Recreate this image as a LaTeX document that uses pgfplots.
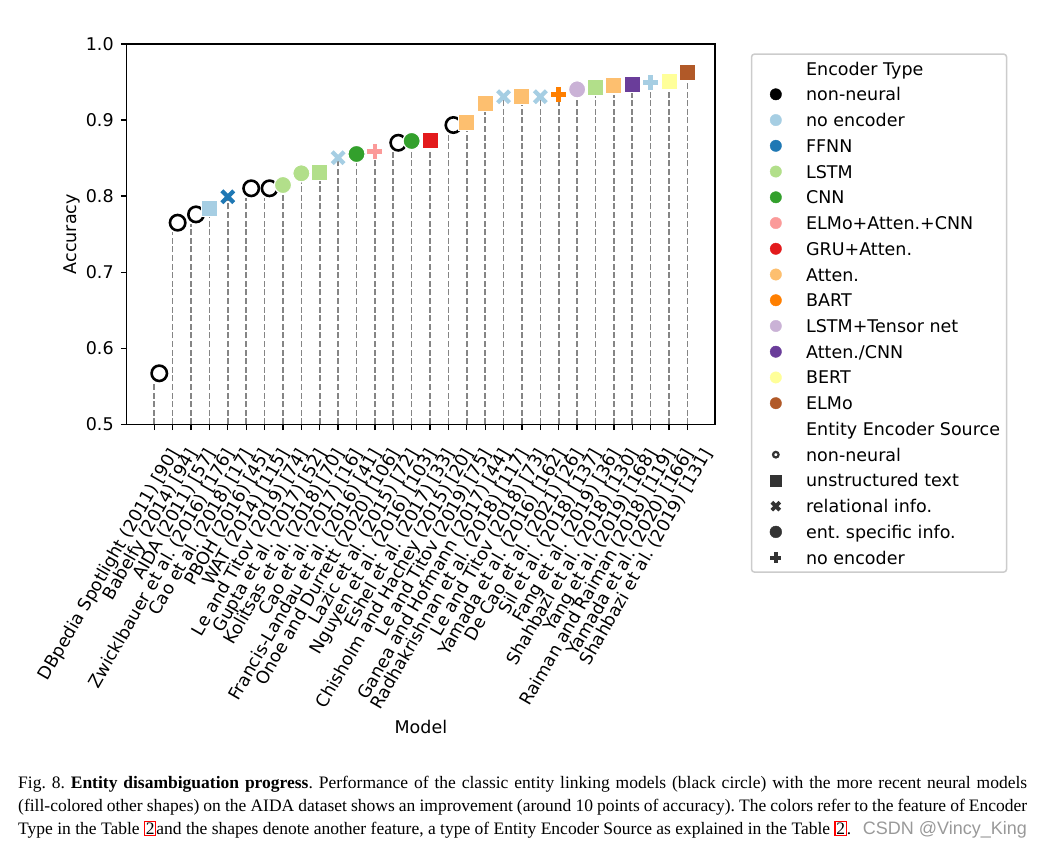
\documentclass[border=0pt]{standalone}
\usepackage{pgfplots}
\pgfplotsset{compat=1.18}
\usepackage{fontspec}
\setmainfont{DejaVu Sans}
\newfontfamily\capfont{Liberation Serif}
\newfontfamily\wmfont{Liberation Sans}
\definecolor{cNE}{HTML}{A6CEE3}
\definecolor{cFF}{HTML}{1F78B4}
\definecolor{cLS}{HTML}{B2DF8A}
\definecolor{cCN}{HTML}{33A02C}
\definecolor{cEA}{HTML}{FB9A99}
\definecolor{cGR}{HTML}{E31A1C}
\definecolor{cAT}{HTML}{FDBF6F}
\definecolor{cBA}{HTML}{FF7F00}
\definecolor{cLT}{HTML}{CAB2D6}
\definecolor{cAC}{HTML}{6A3D9A}
\definecolor{cBE}{HTML}{FFFF99}
\definecolor{cEL}{HTML}{B15928}
\definecolor{cDk}{HTML}{333333}
\definecolor{cStem}{HTML}{858585}
\newcommand{\af}{\fontsize{17.5}{21}\selectfont}
\newcommand{\rb}{{\setlength\fboxsep{0.6pt}\setlength\fboxrule{1.2pt}\color{red}\fbox{\color{black}2}}}
\pgfplotstableread{
x y
0 0.5546
1 0.7526
2 0.7635
3 0.7840
4 0.7992
5 0.7978
6 0.7978
7 0.8146
8 0.8300
9 0.8308
10 0.8505
11 0.8554
12 0.8584
13 0.8577
14 0.8725
15 0.8729
16 0.8810
17 0.8971
18 0.9220
19 0.9307
20 0.9316
21 0.9307
22 0.9339
23 0.9404
24 0.9431
25 0.9448
26 0.9470
27 0.9491
28 0.9504
29 0.9623
}\stems
\begin{document}
\frenchspacing
\begin{tikzpicture}
\path[use as bounding box] (0,0) rectangle (1042pt,-847pt);
\begin{axis}[
  at={(126.7pt,-424.3pt)}, anchor=south west,
  scale only axis, width=588.3pt, height=380.3pt,
  xmin=-1.5, xmax=30.5, ymin=0.5, ymax=1.0,
  axis line style={line width=1.3pt, black},
  tick style={line width=1.3pt, black},
  tick align=outside, major tick length=5.7pt,
  xtick pos=bottom, ytick pos=left,
  xtick={0,...,29},
  xticklabels={{DBpedia Spotlight (2011) [90]},{Babelfy (2014) [94]},{AIDA (2011) [57]},{Zwicklbauer et al. (2016) [176]},{Cao et al. (2018) [17]},{PBOH (2016) [45]},{WAT (2014) [115]},{Le and Titov (2019) [74]},{Gupta et al. (2017) [52]},{Kolitsas et al. (2018) [70]},{Cao et al. (2017) [16]},{Francis-Landau et al. (2016) [41]},{Onoe and Durrett (2020) [106]},{Lazic et al. (2015) [72]},{Nguyen et al. (2016) [103]},{Eshel et al. (2017) [33]},{Chisholm and Hachey (2015) [20]},{Le and Titov (2019) [75]},{Ganea and Hofmann (2017) [44]},{Radhakrishnan et al. (2018) [117]},{Le and Titov (2018) [73]},{Yamada et al. (2016) [162]},{De Cao et al. (2021) [26]},{Sil et al. (2018) [137]},{Fang et al. (2019) [36]},{Shahbazi et al. (2018) [130]},{Yang et al. (2019) [168]},{Raiman and Raiman (2018) [119]},{Yamada et al. (2020) [166]},{Shahbazi et al. (2019) [131]}},
  ytick={0.5,0.6,0.7,0.8,0.9,1.0},
  /pgf/number format/assume math mode=true,
  yticklabel style={font=\af, anchor=east, inner sep=0pt, xshift=-7.1pt,
    /pgf/number format/.cd, fixed, fixed zerofill, precision=1},
  xticklabel style={font=\af, rotate=60, anchor=north east, inner sep=0pt, text height=13.3pt, xshift=-7.2pt, yshift=-19.9pt},
  xlabel={Model}, ylabel={Accuracy},
  label style={font=\af},
  xlabel style={at={(axis description cs:0.5,-0.8125)}, anchor=base},
  ylabel style={at={(axis description cs:-0.0845,0.5)}, anchor=base},
  legend image code/.code={\path[draw=none, fill=none] (-17.7pt,-6pt) rectangle (9pt,6pt); \draw[sharp corners, line width=0.4pt, #1] plot coordinates {(0pt,0pt)};},
  legend cell align=left,
  legend style={at={(1.0608,0.9755)}, anchor=north west, draw=black!20, line width=1.5pt, rounded corners=3pt, fill=white,
    inner xsep=6.6pt, inner ysep=8pt, row sep=12.74pt, column sep=21.3pt, font=\af,
    cells={anchor=west}, nodes={inner sep=0pt, text height=13pt, text depth=0pt}},
]
% stems
\addplot[ycomb, forget plot, draw=cStem, line width=1.6pt, dash pattern=on 6pt off 2.6pt, no marks] table {\stems};
% non-neural rings
\addplot[only marks, forget plot, mark=o, mark size=7.7pt, mark options={draw=black, line width=2.6pt, xshift=5pt, yshift=9.5pt}]
  coordinates {(0,0.5546) (1,0.7526) (2,0.7635) (5,0.7978) (6,0.7978) (13,0.8577) (16,0.8810)};
% squares
\addplot[only marks, forget plot, mark=square*, mark size=8.1pt, mark options={fill=cNE, draw=white, line width=1.2pt}] coordinates {(3,0.7840)};
\addplot[only marks, forget plot, mark=square*, mark size=8.1pt, mark options={fill=cLS, draw=white, line width=1.2pt}] coordinates {(9,0.8308) (24,0.9431)};
\addplot[only marks, forget plot, mark=square*, mark size=8.1pt, mark options={fill=cGR, draw=white, line width=1.2pt}] coordinates {(15,0.8729)};
\addplot[only marks, forget plot, mark=square*, mark size=8.1pt, mark options={fill=cAT, draw=white, line width=1.2pt}] coordinates {(17,0.8971) (18,0.9220) (20,0.9316) (25,0.9448)};
\addplot[only marks, forget plot, mark=square*, mark size=8.1pt, mark options={fill=cAC, draw=white, line width=1.2pt}] coordinates {(26,0.9470)};
\addplot[only marks, forget plot, mark=square*, mark size=8.1pt, mark options={fill=cBE, draw=white, line width=1.2pt}] coordinates {(28,0.9504)};
\addplot[only marks, forget plot, mark=square*, mark size=8.1pt, mark options={fill=cEL, draw=white, line width=1.2pt}] coordinates {(29,0.9623)};
% circles
\addplot[only marks, forget plot, mark=*, mark size=8.6pt, mark options={fill=cLS, draw=white, line width=1.2pt}] coordinates {(7,0.8146) (8,0.8300)};
\addplot[only marks, forget plot, mark=*, mark size=8.6pt, mark options={fill=cCN, draw=white, line width=1.2pt}] coordinates {(11,0.8554) (14,0.8725)};
\addplot[only marks, forget plot, mark=*, mark size=8.6pt, mark options={fill=cLT, draw=white, line width=1.2pt}] coordinates {(23,0.9404)};
% crosses
\addplot[only marks, forget plot, mark=x, mark size=8.4pt, mark options={draw=cFF, line width=4.2pt}] coordinates {(4,0.7992)};
\addplot[only marks, forget plot, mark=x, mark size=8.4pt, mark options={draw=cNE, line width=4.2pt}] coordinates {(10,0.8505) (19,0.9307) (21,0.9307)};
% plus
\addplot[only marks, forget plot, mark=+, mark size=7.5pt, mark options={draw=cEA, line width=4.5pt}] coordinates {(12,0.8584)};
\addplot[only marks, forget plot, mark=+, mark size=7.5pt, mark options={draw=cBA, line width=4.5pt}] coordinates {(22,0.9339)};
\addplot[only marks, forget plot, mark=+, mark size=7.5pt, mark options={draw=cNE, line width=4.5pt}] coordinates {(27,0.9491)};
% legend
\addlegendimage{empty legend}\addlegendentry{Encoder Type}
\addlegendimage{mark=*, mark size=5.7pt, color=black}\addlegendentry{non-neural}
\addlegendimage{mark=*, mark size=5.7pt, color=cNE}\addlegendentry{no encoder}
\addlegendimage{mark=*, mark size=5.7pt, color=cFF}\addlegendentry{FFNN}
\addlegendimage{mark=*, mark size=5.7pt, color=cLS}\addlegendentry{LSTM}
\addlegendimage{mark=*, mark size=5.7pt, color=cCN}\addlegendentry{CNN}
\addlegendimage{mark=*, mark size=5.7pt, color=cEA}\addlegendentry{ELMo+Atten.+CNN}
\addlegendimage{mark=*, mark size=5.7pt, color=cGR}\addlegendentry{GRU+Atten.}
\addlegendimage{mark=*, mark size=5.7pt, color=cAT}\addlegendentry{Atten.}
\addlegendimage{mark=*, mark size=5.7pt, color=cBA}\addlegendentry{BART}
\addlegendimage{mark=*, mark size=5.7pt, color=cLT}\addlegendentry{LSTM+Tensor net}
\addlegendimage{mark=*, mark size=5.7pt, color=cAC}\addlegendentry{Atten./CNN}
\addlegendimage{mark=*, mark size=5.7pt, color=cBE}\addlegendentry{BERT}
\addlegendimage{mark=*, mark size=5.7pt, color=cEL}\addlegendentry{ELMo}
\addlegendimage{empty legend}\addlegendentry{Entity Encoder Source}
\addlegendimage{mark=o, mark size=2.8pt, mark options={draw=cDk, line width=2.2pt}}\addlegendentry{non-neural}
\addlegendimage{mark=square*, mark size=5.7pt, color=cDk}\addlegendentry{unstructured text}
\addlegendimage{mark=x, mark size=5.6pt, mark options={draw=cDk, line width=3.8pt}}\addlegendentry{relational info.}
\addlegendimage{mark=*, mark size=5.9pt, color=cDk}\addlegendentry{ent. specific info.}
\addlegendimage{mark=+, mark size=5.6pt, mark options={draw=cDk, line width=4pt}}\addlegendentry{no encoder}
\end{axis}
\node[anchor=base west, inner sep=0pt, font=\capfont\fontsize{17.5}{23}\selectfont] at (18pt,-788pt)
  {\makebox[1009pt][s]{Fig. 8. \textbf{Entity disambiguation progress}. Performance of the classic entity linking models (black circle) with the more recent neural models}};
\node[anchor=base west, inner sep=0pt, font=\capfont\fontsize{17.5}{23}\selectfont] at (18pt,-811pt)
  {\makebox[1009pt][s]{(fill-colored other shapes) on the AIDA dataset shows an improvement (around 10 points of accuracy). The colors refer to the feature of Encoder}};
\node[anchor=base west, inner sep=0pt, font=\capfont\fontsize{17.5}{23}\selectfont] at (18pt,-834pt)
  {Type in the Table \rb and the shapes denote another feature, a type of Entity Encoder Source as explained in the Table \rb.};
\node[anchor=base east, inner sep=0pt, font=\wmfont\fontsize{18}{20}\selectfont, text=black!40] at (1027pt,-834pt) {CSDN @Vincy\_King};
\end{tikzpicture}
\end{document}
